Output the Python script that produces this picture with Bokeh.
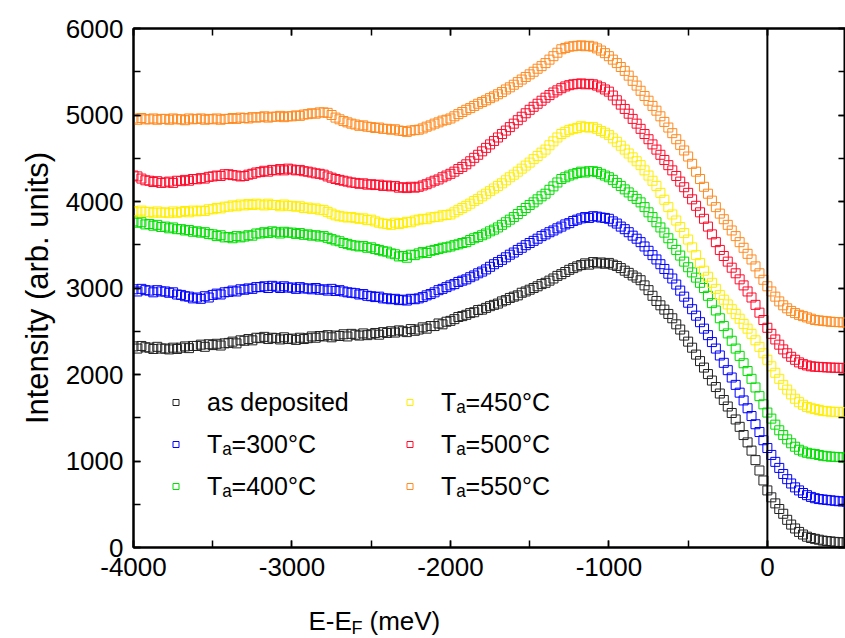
from bokeh.plotting import figure
from bokeh.layouts import column
from bokeh.models import (Range1d, LinearAxis, SingleIntervalTicker, Span, Label,
                          Legend, LegendItem, ColumnDataSource)
from bokeh.embed import file_html
from bokeh.resources import INLINE

# Energy grid E-E_F (meV), 25 meV steps
energy = list(range(-4000, 501, 25))

x_ticks_labels = ["-4000", "-3000", "-2000", "-1000", "0"]
y_ticks_labels = ["0", "1000", "2000", "3000", "4000", "5000", "6000"]

labels = ["as deposited", "Tₐ=300°C", "Tₐ=400°C", "Tₐ=450°C", "Tₐ=500°C", "Tₐ=550°C"]

as_deposited = [
    2325, 2300, 2330, 2315, 2310, 2295, 2320, 2300,
    2300, 2290, 2310, 2295, 2310, 2325, 2305, 2330,
    2330, 2345, 2320, 2350, 2340, 2355, 2335, 2360,
    2365, 2380, 2360, 2395, 2390, 2410, 2395, 2425,
    2420, 2435, 2410, 2425, 2420, 2405, 2430, 2410,
    2415, 2400, 2425, 2410, 2420, 2440, 2425, 2445,
    2440, 2455, 2430, 2450, 2445, 2465, 2440, 2470,
    2460, 2450, 2475, 2455, 2465, 2480, 2460, 2490,
    2480, 2500, 2485, 2510, 2500, 2490, 2525, 2505,
    2520, 2545, 2530, 2560, 2560, 2590, 2580, 2610,
    2620, 2640, 2665, 2675, 2690, 2710, 2720, 2745,
    2750, 2770, 2790, 2805, 2820, 2845, 2860, 2885,
    2900, 2915, 2945, 2960, 2980, 3000, 3020, 3045,
    3060, 3085, 3110, 3140, 3160, 3185, 3210, 3230,
    3250, 3265, 3285, 3270, 3300, 3285, 3295, 3280,
    3290, 3270, 3255, 3230, 3200, 3175, 3145, 3120,
    3090, 3030, 2975, 2910, 2850, 2800, 2750, 2700,
    2650, 2580, 2520, 2450, 2380, 2310, 2230, 2155,
    2080, 2005, 1930, 1855, 1780, 1705, 1630, 1555,
    1480, 1395, 1300, 1215, 1120, 1010, 890, 775,
    660, 580, 510, 445, 390, 320, 265, 220,
    180, 150, 125, 110, 100, 90, 80, 75,
    70, 65, 62, 60, 60,
]

ta_300 = [
    2985, 2960, 2990, 2975, 2970, 2950, 2975, 2960,
    2960, 2945, 2950, 2925, 2920, 2905, 2900, 2880,
    2890, 2875, 2905, 2890, 2920, 2935, 2925, 2950,
    2955, 2970, 2960, 2985, 2980, 2995, 2990, 3010,
    3010, 3020, 3000, 3025, 3015, 3000, 3020, 3005,
    3005, 2990, 3010, 2995, 2995, 2985, 3000, 2980,
    2985, 2970, 2990, 2965, 2975, 2960, 2950, 2945,
    2940, 2925, 2930, 2910, 2905, 2895, 2900, 2880,
    2880, 2870, 2875, 2860, 2865, 2855, 2875, 2870,
    2880, 2895, 2915, 2930, 2950, 2975, 2990, 3010,
    3030, 3045, 3070, 3085, 3100, 3125, 3145, 3170,
    3190, 3215, 3245, 3275, 3300, 3325, 3355, 3385,
    3410, 3440, 3465, 3495, 3520, 3545, 3570, 3600,
    3620, 3645, 3665, 3690, 3710, 3735, 3750, 3775,
    3790, 3805, 3820, 3810, 3830, 3825, 3815, 3810,
    3800, 3770, 3745, 3710, 3680, 3645, 3605, 3570,
    3530, 3480, 3430, 3380, 3330, 3275, 3220, 3165,
    3110, 3040, 2970, 2900, 2830, 2755, 2680, 2605,
    2530, 2455, 2375, 2300, 2220, 2135, 2050, 1965,
    1880, 1790, 1700, 1610, 1520, 1425, 1335, 1240,
    1150, 1070, 990, 920, 850, 790, 740, 695,
    660, 630, 605, 585, 570, 560, 555, 550,
    545, 540, 535, 532, 530,
]

ta_400 = [
    3770, 3755, 3760, 3735, 3740, 3720, 3730, 3705,
    3710, 3690, 3700, 3680, 3680, 3665, 3670, 3650,
    3655, 3640, 3645, 3625, 3620, 3600, 3610, 3585,
    3590, 3575, 3600, 3585, 3595, 3610, 3605, 3630,
    3630, 3645, 3635, 3655, 3645, 3630, 3650, 3640,
    3640, 3625, 3635, 3615, 3620, 3605, 3610, 3595,
    3600, 3580, 3565, 3550, 3540, 3520, 3510, 3495,
    3490, 3480, 3485, 3465, 3470, 3450, 3440, 3425,
    3420, 3400, 3390, 3365, 3370, 3350, 3385, 3380,
    3400, 3415, 3405, 3430, 3440, 3450, 3465, 3470,
    3480, 3495, 3505, 3520, 3530, 3555, 3575, 3590,
    3610, 3630, 3655, 3675, 3700, 3730, 3760, 3790,
    3820, 3855, 3890, 3925, 3960, 3990, 4025, 4060,
    4090, 4135, 4175, 4220, 4260, 4280, 4300, 4315,
    4330, 4345, 4335, 4350, 4350, 4340, 4320, 4300,
    4280, 4250, 4215, 4180, 4140, 4105, 4065, 4030,
    3990, 3935, 3875, 3820, 3760, 3700, 3640, 3575,
    3510, 3440, 3375, 3305, 3240, 3180, 3120, 3060,
    3000, 2910, 2825, 2740, 2650, 2560, 2475, 2390,
    2300, 2215, 2130, 2040, 1950, 1850, 1750, 1655,
    1560, 1490, 1420, 1355, 1300, 1250, 1205, 1165,
    1130, 1110, 1095, 1085, 1080, 1070, 1060, 1055,
    1050, 1048, 1045, 1042, 1040,
]

ta_450 = [
    3890, 3875, 3895, 3880, 3880, 3870, 3885, 3870,
    3875, 3865, 3885, 3870, 3880, 3890, 3875, 3895,
    3886, 3895, 3890, 3910, 3910, 3925, 3920, 3940,
    3940, 3955, 3945, 3965, 3955, 3970, 3960, 3975,
    3965, 3955, 3975, 3960, 3960, 3945, 3965, 3950,
    3950, 3940, 3945, 3925, 3930, 3915, 3920, 3905,
    3900, 3880, 3860, 3840, 3830, 3825, 3815, 3820,
    3810, 3800, 3805, 3785, 3790, 3770, 3755, 3745,
    3740, 3730, 3755, 3740, 3750, 3765, 3760, 3780,
    3790, 3800, 3795, 3815, 3820, 3825, 3840, 3845,
    3850, 3875, 3900, 3925, 3950, 3975, 4005, 4030,
    4060, 4090, 4120, 4150, 4180, 4210, 4245, 4280,
    4310, 4345, 4380, 4415, 4450, 4490, 4525, 4565,
    4600, 4650, 4695, 4740, 4780, 4805, 4825, 4840,
    4850, 4870, 4860, 4855, 4860, 4840, 4815, 4795,
    4770, 4730, 4690, 4645, 4600, 4555, 4510, 4465,
    4420, 4360, 4300, 4240, 4180, 4100, 4020, 3935,
    3850, 3780, 3705, 3635, 3560, 3470, 3380, 3290,
    3200, 3130, 3060, 2990, 2920, 2865, 2810, 2755,
    2700, 2645, 2585, 2530, 2470, 2395, 2320, 2245,
    2170, 2095, 2020, 1950, 1880, 1825, 1770, 1720,
    1680, 1650, 1625, 1610, 1600, 1590, 1580, 1575,
    1570, 1568, 1566, 1565, 1565,
]

ta_500 = [
    4300, 4290, 4265, 4245, 4240, 4225, 4235, 4215,
    4220, 4230, 4215, 4240, 4235, 4250, 4240, 4260,
    4257, 4270, 4265, 4285, 4290, 4300, 4295, 4315,
    4315, 4305, 4300, 4290, 4295, 4310, 4320, 4335,
    4340, 4355, 4345, 4365, 4360, 4375, 4360, 4380,
    4370, 4360, 4365, 4350, 4345, 4335, 4325, 4320,
    4310, 4290, 4275, 4260, 4250, 4240, 4230, 4220,
    4215, 4205, 4210, 4195, 4200, 4190, 4195, 4180,
    4185, 4175, 4180, 4160, 4165, 4155, 4170, 4160,
    4170, 4185, 4200, 4220, 4240, 4255, 4280, 4300,
    4320, 4345, 4375, 4400, 4430, 4465, 4505, 4540,
    4580, 4620, 4660, 4700, 4740, 4780, 4820, 4860,
    4900, 4940, 4980, 5020, 5060, 5095, 5130, 5165,
    5200, 5230, 5260, 5285, 5310, 5330, 5345, 5355,
    5360, 5365, 5355, 5360, 5355, 5340, 5320, 5295,
    5270, 5225, 5170, 5120, 5070, 5015, 4955, 4900,
    4840, 4780, 4720, 4660, 4600, 4540, 4480, 4420,
    4360, 4295, 4230, 4165, 4100, 4025, 3950, 3875,
    3800, 3710, 3620, 3530, 3440, 3370, 3305, 3235,
    3170, 3100, 3030, 2960, 2890, 2805, 2715, 2630,
    2540, 2470, 2405, 2345, 2290, 2245, 2205, 2170,
    2140, 2120, 2105, 2095, 2090, 2088, 2085, 2082,
    2080, 2078, 2077, 2076, 2075,
]

ta_550 = [
    4960, 4945, 4965, 4950, 4950, 4960, 4945, 4955,
    4955, 4945, 4960, 4950, 4950, 4940, 4960, 4950,
    4955, 4960, 4945, 4955, 4950, 4960, 4945, 4955,
    4955, 4965, 4955, 4970, 4965, 4960, 4975, 4970,
    4975, 4985, 4970, 4980, 4980, 4990, 4975, 4985,
    4985, 4995, 4990, 5005, 5010, 5020, 5015, 5030,
    5030, 5025, 5000, 4970, 4950, 4930, 4915, 4900,
    4890, 4875, 4880, 4865, 4860, 4850, 4855, 4840,
    4840, 4830, 4835, 4820, 4815, 4805, 4820, 4825,
    4830, 4845, 4865, 4880, 4900, 4915, 4935, 4945,
    4960, 4985, 5010, 5035, 5060, 5080, 5105, 5130,
    5150, 5170, 5195, 5215, 5240, 5265, 5295, 5320,
    5350, 5380, 5410, 5440, 5470, 5500, 5535, 5565,
    5600, 5640, 5680, 5720, 5760, 5775, 5790, 5795,
    5800, 5805, 5795, 5800, 5790, 5770, 5745, 5715,
    5680, 5640, 5600, 5555, 5510, 5455, 5395, 5340,
    5280, 5220, 5165, 5105, 5050, 4985, 4920, 4855,
    4790, 4720, 4655, 4590, 4520, 4435, 4345, 4260,
    4170, 4090, 4010, 3935, 3860, 3795, 3730, 3665,
    3600, 3530, 3465, 3395, 3330, 3250, 3170, 3095,
    3020, 2960, 2900, 2845, 2800, 2765, 2735, 2710,
    2690, 2675, 2660, 2645, 2630, 2625, 2620, 2615,
    2610, 2607, 2605, 2602, 2600,
]

series_values = [as_deposited, ta_300, ta_400, ta_450, ta_500, ta_550]
colors = ["#222222", "#0000ff", "#00dd00", "#ffee00", "#ff0a2a", "#ff8a20"]

for s in series_values:
    assert len(s) == len(energy), len(s)

FONT = "Liberation Sans"

p = figure(width=845, height=592, output_backend="svg", toolbar_location=None,
           x_range=Range1d(-4000, 493), y_range=Range1d(0, 6000),
           min_border_left=133, min_border_right=0, min_border_top=28,
           min_border_bottom=45, background_fill_color="white",
           border_fill_color="white")
p.xgrid.visible = False
p.ygrid.visible = False
p.outline_line_color = "black"
p.outline_line_width = 2

top = LinearAxis(major_label_text_font_size="0px", major_label_text_color=None,
                 major_label_standoff=0)
right = LinearAxis(major_label_text_font_size="0px", major_label_text_color=None,
                   major_label_standoff=0)
p.add_layout(top, "above")
p.add_layout(right, "right")

bottom_axis = p.below[0]
left_axis = p.left[0]

for ax in [bottom_axis, left_axis, top, right]:
    ax.ticker = SingleIntervalTicker(interval=1000, num_minor_ticks=2)
    ax.axis_line_width = 2
    ax.axis_line_color = "black"
    ax.major_tick_in = 7
    ax.major_tick_out = 0
    ax.minor_tick_in = 7
    ax.minor_tick_out = 0
    ax.major_tick_line_width = 1.5
    ax.minor_tick_line_width = 1.5
    ax.major_tick_line_color = "black"
    ax.minor_tick_line_color = "black"

for ax, lbls in [(bottom_axis, x_ticks_labels), (left_axis, y_ticks_labels)]:
    ax.major_label_text_font = FONT
    ax.major_label_text_font_size = "26px"
    ax.major_label_text_color = "black"
    ax.major_label_standoff = 10
    ax.major_label_overrides = {int(t): t for t in lbls}

left_axis.axis_label = "Intensity (arb. units)"
left_axis.axis_label_text_font = FONT
left_axis.axis_label_text_font_size = "31px"
left_axis.axis_label_text_font_style = "normal"
left_axis.axis_label_text_color = "black"
left_axis.axis_label_standoff = 8

p.add_layout(Span(location=0, dimension="height", line_color="black", line_width=2))

renderers = []
for vals, color in zip(series_values, colors):
    src = ColumnDataSource(dict(x=energy, y=vals))
    r = p.scatter("x", "y", source=src, marker="square", size=9,
                  fill_color=None, line_color=color, line_width=1)
    renderers.append(r)

legend = Legend(items=[LegendItem(label=l, renderers=[r]) for l, r in zip(labels, renderers)],
                location=(35, 41), orientation="vertical", nrows=3,
                glyph_width=15, glyph_height=40, label_standoff=24, label_width=193,
                spacing=2, padding=0, margin=0, border_line_color=None,
                background_fill_alpha=0, label_text_font=FONT,
                label_text_font_size="25px", label_text_color="black")
p.add_layout(legend)

# strip below the chart carrying the x-axis title E-E_F (meV)
p2 = figure(width=845, height=46, output_backend="svg", toolbar_location=None,
            x_range=Range1d(0, 845), y_range=Range1d(0, 46),
            min_border=0, x_axis_type=None, y_axis_type=None,
            background_fill_color="white", border_fill_color="white")
p2.outline_line_color = None
p2.xgrid.visible = False
p2.ygrid.visible = False
p2.add_layout(Label(x=175, y=18, x_units="screen", y_units="screen", text="E-E",
                    text_align="left", text_baseline="alphabetic",
                    text_font=FONT, text_font_size="26px", text_color="black"))
p2.add_layout(Label(x=218, y=11, x_units="screen", y_units="screen", text="F",
                    text_align="left", text_baseline="alphabetic",
                    text_font=FONT, text_font_size="18px", text_color="black"))
p2.add_layout(Label(x=236, y=18, x_units="screen", y_units="screen", text="(meV)",
                    text_align="left", text_baseline="alphabetic",
                    text_font=FONT, text_font_size="26px", text_color="black"))

layout = column(p, p2, spacing=0)
open("out.html", "w").write(file_html(layout, INLINE))
